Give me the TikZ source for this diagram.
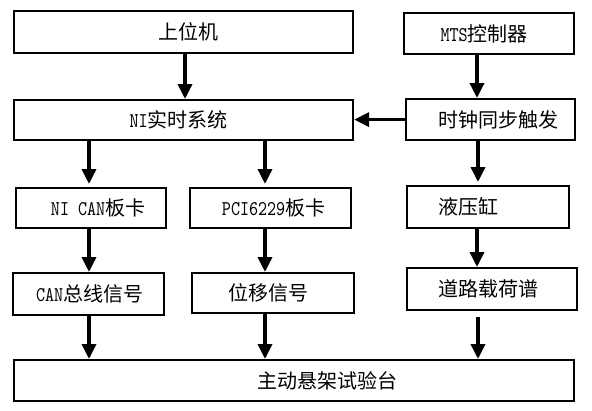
\documentclass[tikz,border=0pt]{standalone}
\usepackage{fontspec}
\setmainfont{Noto Sans CJK SC}
\newfontfamily\latf{lmmono10-regular}[Extension=.otf, FakeStretch=0.82]
\newcommand{\lat}{\latf\fontsize{21pt}{22pt}\selectfont}
\usetikzlibrary{arrows.meta}
\begin{document}
\begin{tikzpicture}[x=1pt,y=-1pt,
  box/.style={draw, line width=2.2pt, inner sep=0pt, anchor=north west, font=\fontsize{20pt}{22pt}\selectfont},
  arr/.style={line width=3.5pt, -{Triangle[width=14pt,length=15pt]}}]
\fill[white] (0,0) rectangle (592,410);
\useasboundingbox (0,0) rectangle (592,410);
\node[box, minimum width=339pt, minimum height=42pt] (A) at (13,10) {\hspace*{10pt}上位机};
\node[box, minimum width=170pt, minimum height=41pt] (B) at (403,12) {{\lat MTS}控制器\hspace*{10pt}};
\node[box, minimum width=339pt, minimum height=40pt] (C) at (13,99) {{\lat NI}实时系统\hspace*{10pt}};
\node[box, minimum width=169pt, minimum height=41pt] (D) at (405,98) {\hspace*{16pt}时钟同步触发};
\node[box, minimum width=150pt, minimum height=40pt] (E) at (15,187) {\hspace*{14pt}{\lat NI CAN}板卡};
\node[box, minimum width=161pt, minimum height=40pt] (F) at (189,187) {\hspace*{6pt}{\lat PCI6229}板卡};
\node[box, minimum width=162pt, minimum height=42pt] (G) at (406,185) {液压缸\hspace*{40pt}};
\node[box, minimum width=151pt, minimum height=42pt] (H) at (12,272) {\hspace*{2pt}{\lat CAN}总线信号};
\node[box, minimum width=162pt, minimum height=40pt] (I) at (191,272) {位移信号\hspace*{10pt}};
\node[box, minimum width=170pt, minimum height=42pt] (J) at (406,267) {道路载荷谱\hspace*{8pt}};
\node[box, minimum width=560pt, minimum height=41pt] (K) at (13,359) {\hspace*{66pt}主动悬架试验台};
\coordinate (xa) at (185,0);
\coordinate (xb) at (477,0);
\coordinate (xc) at (89,0);
\coordinate (xd) at (265,0);
\coordinate (xe) at (478,0);
\draw[arr] (A.south -| xa) -- (C.north -| xa);
\draw[arr] (B.south -| xb) -- (D.north -| xb);
\draw[arr] (D.west) -- (D.west -| C.east);
\draw[arr, shorten >=3pt] (C.south -| xc) -- (E.north -| xc);
\draw[arr, shorten >=3pt] (C.south -| xd) -- (F.north -| xd);
\draw[arr, shorten >=3pt] (D.south -| xe) -- (G.north -| xe);
\draw[arr] (E.south -| xc) -- (H.north -| xc);
\draw[arr] (F.south -| xd) -- (I.north -| xd);
\draw[arr] (G.south -| xb) -- (J.north -| xb);
\draw[arr] (H.south -| xc) -- (K.north -| xc);
\draw[arr] (I.south -| xd) -- (K.north -| xd);
\draw[arr, shorten <=6pt] (J.south -| xe) -- (K.north -| xe);
\end{tikzpicture}
\end{document}
